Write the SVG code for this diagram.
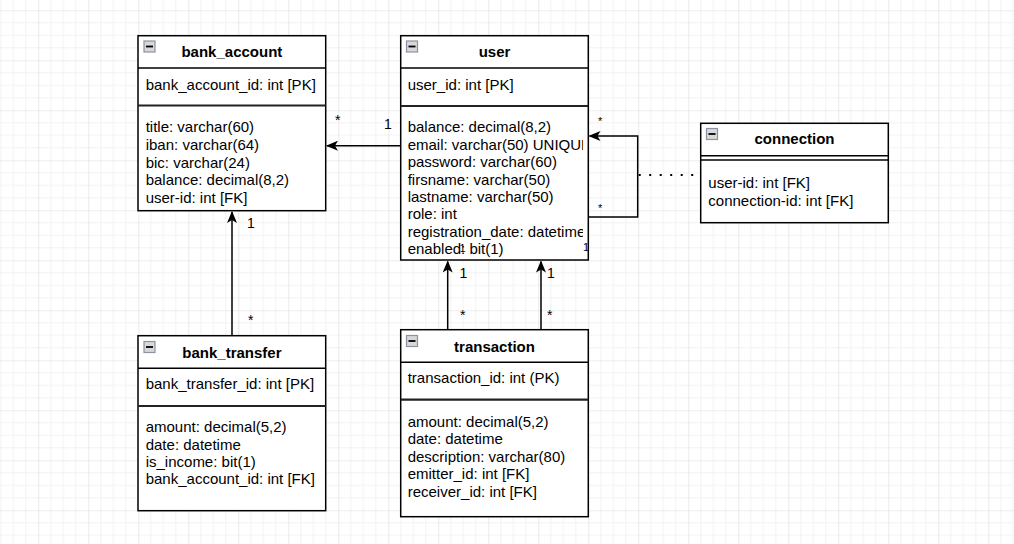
<svg xmlns="http://www.w3.org/2000/svg" width="1014" height="544" viewBox="0 0 1014 544">
<style>
.box{fill:#fff;stroke:#000;stroke-width:1.5}
.sep{stroke:#000;stroke-width:1.5}
.sep2{stroke:#222;stroke-width:2.2}
.t{font-family:"Liberation Sans",Arial,sans-serif;font-size:15px;fill:#000}
.h{font-family:"Liberation Sans",Arial,sans-serif;font-size:15px;font-weight:bold;fill:#000;text-anchor:middle}
.lbl{font-family:"Liberation Sans",Arial,sans-serif;font-size:14px;fill:#000}
.lbs{font-family:"Liberation Sans",Arial,sans-serif;font-size:11px;fill:#000}
.edge{fill:none;stroke:#000;stroke-width:1.5}
.dot{fill:none;stroke:#000;stroke-width:2;stroke-dasharray:2 8.5}
.ic{fill:#d8d8d8;stroke:#8c93a6;stroke-width:1.2}
.icm{stroke:#000;stroke-width:1.8}
</style>
<defs>
<pattern id="grid" patternUnits="userSpaceOnUse" x="-11.7" y="-39.7" width="50" height="50">
<path d="M12.5 0V50M25 0V50M37.5 0V50M0 12.5H50M0 25H50M0 37.5H50" stroke="#f2f2f2" stroke-width="1" fill="none"/>
<path d="M0 0V50M0 0H50" stroke="#dcdcdc" stroke-width="1.2" fill="none"/>
</pattern>
<marker id="arr" viewBox="0 0 12 10" refX="11" refY="5" markerWidth="12" markerHeight="10" markerUnits="userSpaceOnUse" orient="auto">
<path d="M0 0L12 5L0 10L3 5Z" fill="#000"/>
</marker>
<clipPath id="userclip"><rect x="401" y="106" width="182" height="154"/></clipPath>
</defs>
<rect width="1014" height="544" fill="#fff"/>
<rect width="1014" height="544" fill="url(#grid)"/>

<g id="connectors">
<path class="edge" d="M400.7 145.7H327" marker-end="url(#arr)"/>
<path class="edge" d="M232 335.7V212" marker-end="url(#arr)"/>
<path class="edge" d="M447.7 329.7V261.5" marker-end="url(#arr)"/>
<path class="edge" d="M541 329.7V261.5" marker-end="url(#arr)"/>
<path class="edge" d="M588.3 217H637.7V136H589.5" marker-end="url(#arr)"/>
<path class="dot" d="M638.7 175H700.7"/>
<text class="lbl" x="335" y="125">*</text>
<text class="lbl" x="384" y="128.5">1</text>
<text class="lbl" x="247" y="228">1</text>
<text class="lbl" x="248" y="325">*</text>
<text class="lbl" x="459.5" y="278">1</text>
<text class="lbl" x="547" y="278">1</text>
<text class="lbl" x="460" y="320">*</text>
<text class="lbl" x="547" y="320">*</text>
<text class="lbs" x="598" y="125">*</text>
<text class="lbs" x="598" y="212">*</text>
</g>

<g id="bank_account">
<rect class="box" x="138" y="35.7" width="187.7" height="175"/>
<line class="sep" x1="138" y1="68" x2="325.7" y2="68"/>
<line class="sep2" x1="138" y1="105.5" x2="325.7" y2="105.5"/>
<rect class="ic" x="144" y="41" width="11" height="11"/>
<line class="icm" x1="146" y1="46.5" x2="153" y2="46.5"/>
<text class="h" x="231.9" y="57.3">bank_account</text>
<text class="t" x="145.7" y="90">bank_account_id: int [PK]</text>
<text class="t" x="145.7" y="132.3">title: varchar(60)</text>
<text class="t" x="145.7" y="149.9">iban: varchar(64)</text>
<text class="t" x="145.7" y="167.5">bic: varchar(24)</text>
<text class="t" x="145.7" y="185.1">balance: decimal(8,2)</text>
<text class="t" x="145.7" y="202.7">user-id: int [FK]</text>
</g>

<g id="user">
<rect class="box" x="400.7" y="35.7" width="187.6" height="224.3"/>
<line class="sep" x1="400.7" y1="68" x2="588.3" y2="68"/>
<line class="sep2" x1="400.7" y1="106" x2="588.3" y2="106"/>
<rect class="ic" x="406.5" y="41" width="11" height="11"/>
<line class="icm" x1="408.5" y1="46.5" x2="415.5" y2="46.5"/>
<text class="h" x="494.5" y="57.3">user</text>
<text class="t" x="407.7" y="90">user_id: int [PK]</text>
<g clip-path="url(#userclip)">
<text class="t" x="407.7" y="132.3">balance: decimal(8,2)</text>
<text class="t" x="407.7" y="149.7">email: varchar(50) UNIQUE</text>
<text class="t" x="407.7" y="167.1">password: varchar(60)</text>
<text class="t" x="407.7" y="184.5">firsname: varchar(50)</text>
<text class="t" x="407.7" y="201.9">lastname: varchar(50)</text>
<text class="t" x="407.7" y="219.3">role: int</text>
<text class="t" x="407.7" y="236.7">registration_date: datetime</text>
<text class="t" x="407.7" y="254.1">enabled: bit(1)</text>
</g>
<text class="lbs" x="459.5" y="252">1</text>
<text class="lbs" x="583" y="251">1</text>
</g>

<g id="connection">
<rect class="box" x="700.7" y="123.3" width="187.6" height="99.4"/>
<line class="sep" x1="700.7" y1="155.7" x2="888.3" y2="155.7"/>
<line class="sep" x1="700.7" y1="160" x2="888.3" y2="160"/>
<rect class="ic" x="706.5" y="128.5" width="11" height="11"/>
<line class="icm" x1="708.5" y1="134" x2="715.5" y2="134"/>
<text class="h" x="794.5" y="144.3">connection</text>
<text class="t" x="708.3" y="188.3">user-id: int [FK]</text>
<text class="t" x="708.3" y="205.5">connection-id: int [FK]</text>
</g>

<g id="bank_transfer">
<rect class="box" x="138" y="335.7" width="187.7" height="175"/>
<line class="sep" x1="138" y1="368.3" x2="325.7" y2="368.3"/>
<line class="sep2" x1="138" y1="406" x2="325.7" y2="406"/>
<rect class="ic" x="144" y="341.5" width="11" height="11"/>
<line class="icm" x1="146" y1="347" x2="153" y2="347"/>
<text class="h" x="231.9" y="357.7">bank_transfer</text>
<text class="t" x="145.7" y="389.3">bank_transfer_id: int [PK]</text>
<text class="t" x="145.7" y="432.3">amount: decimal(5,2)</text>
<text class="t" x="145.7" y="449.6">date: datetime</text>
<text class="t" x="145.7" y="466.9">is_income: bit(1)</text>
<text class="t" x="145.7" y="484.2">bank_account_id: int [FK]</text>
</g>

<g id="transaction">
<rect class="box" x="400.7" y="329.7" width="187.6" height="187"/>
<line class="sep" x1="400.7" y1="362.3" x2="588.3" y2="362.3"/>
<line class="sep2" x1="400.7" y1="399.7" x2="588.3" y2="399.7"/>
<rect class="ic" x="406.5" y="335.5" width="11" height="11"/>
<line class="icm" x1="408.5" y1="341" x2="415.5" y2="341"/>
<text class="h" x="494.5" y="351.7">transaction</text>
<text class="t" x="407.7" y="383.3">transaction_id: int (PK)</text>
<text class="t" x="407.7" y="426.7">amount: decimal(5,2)</text>
<text class="t" x="407.7" y="444.2">date: datetime</text>
<text class="t" x="407.7" y="461.7">description: varchar(80)</text>
<text class="t" x="407.7" y="479.2">emitter_id: int [FK]</text>
<text class="t" x="407.7" y="496.7">receiver_id: int [FK]</text>
</g>
</svg>
